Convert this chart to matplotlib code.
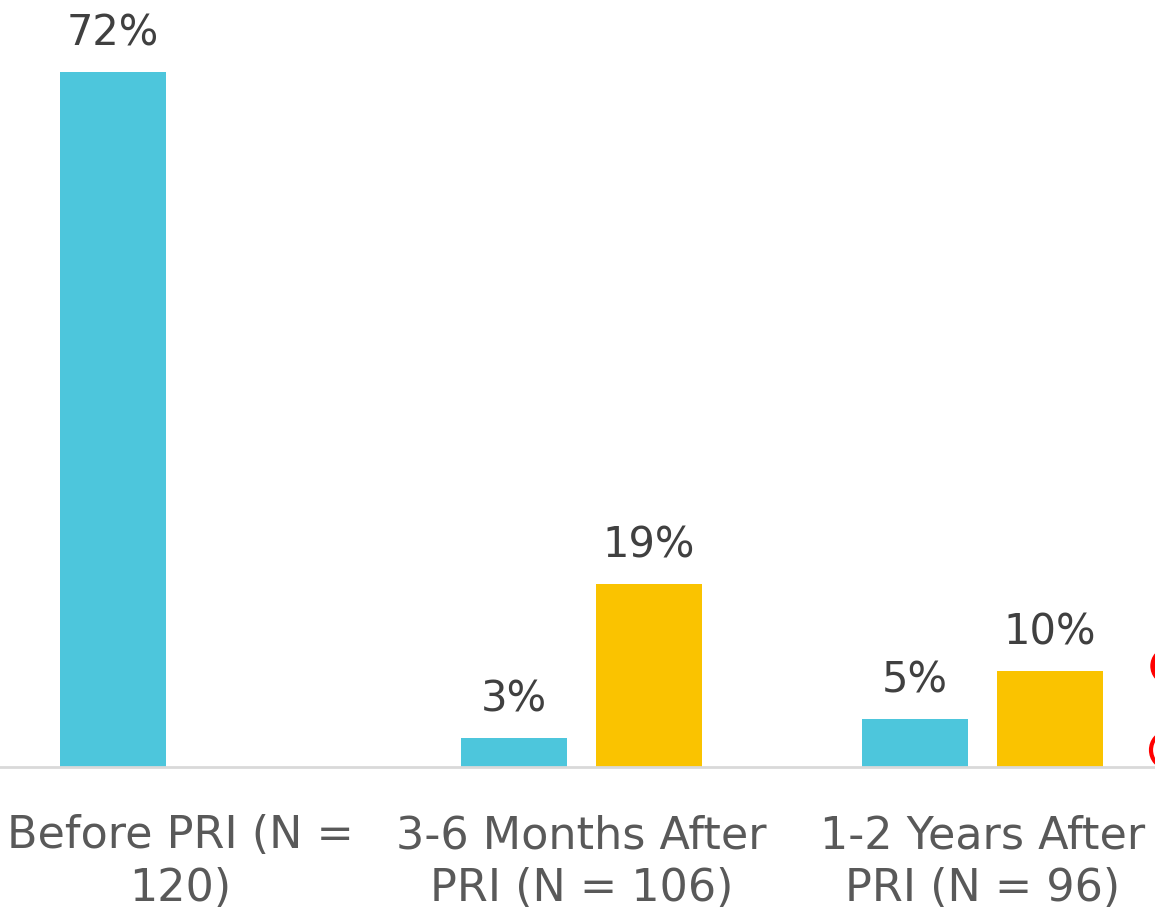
import numpy as np
import matplotlib.pyplot as plt
from matplotlib.patches import Ellipse

# data
categories = ['Before PRI (N =\n120)', '3-6 Months After\nPRI (N = 106)', '1-2 Years After\nPRI (N = 96)']
blue_vals = [72, 3, 5]
orange_vals = [None, 19, 10]

blue = '#4DC6DC'
orange = '#FAC300'
text_col = '#404040'
tick_col = '#595959'

fig = plt.figure(figsize=(11.55, 9.14), dpi=100)
ax = fig.add_axes([0, 1 - 767/914, 1, 767/914])

x = np.arange(len(categories))
w = 0.265
off = 0.168

for i, v in enumerate(blue_vals):
    ax.bar(x[i] - off, v, w, color=blue)
    ax.text(x[i] - off, v + 1.8, f'{v}%', ha='center', va='bottom', fontsize=30, color=text_col)
for i, v in enumerate(orange_vals):
    if v is None:
        continue
    ax.bar(x[i] + off, v, w, color=orange)
    ax.text(x[i] + off, v + 1.8, f'{v}%', ha='center', va='bottom', fontsize=30, color=text_col)

ax.set_xlim(-0.45, 2.43)
ax.set_ylim(0, 79.5)
ax.set_yticks([])
ax.set_xticks(x)
ax.set_xticklabels(categories, fontsize=32, color=tick_col, linespacing=1.3)
ax.tick_params(axis='x', length=0, pad=34)
for s in ['top', 'left', 'right']:
    ax.spines[s].set_visible(False)
ax.spines['bottom'].set_color('#D9D9D9')
ax.spines['bottom'].set_linewidth(2)

# clipped red marks at the right edge
fig.patches.append(Ellipse((1166/1155, 1 - 666/914), 30/1155, 34/914, color='#FF0000',
                           transform=fig.transFigure, figure=fig))
fig.patches.append(Ellipse((1166/1155, 1 - 750/914), 30/1155, 34/914, facecolor='none',
                           edgecolor='#FF0000', linewidth=3, transform=fig.transFigure, figure=fig))

fig.savefig('out.png', dpi=100)
